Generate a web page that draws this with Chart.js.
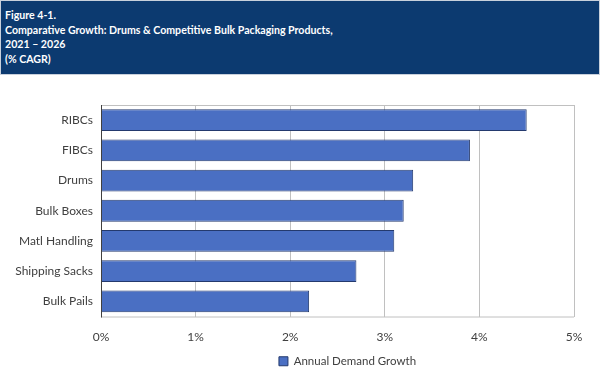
<!DOCTYPE html>
<html>
<head>
<meta charset="utf-8">
<script src="https://cdn.jsdelivr.net/npm/chart.js@4/dist/chart.umd.min.js"></script>
<style>
  html, body { margin: 0; padding: 0; background: #fff; }
  #wrap { position: relative; width: 600px; height: 372px; overflow: hidden; }
  #hdr { position: absolute; left: 0; top: 0; width: 594px; height: 66px; background: #0c3a70;
         border: 1px solid #c8d0dc; color: #fff; font-family: Lato, 'Noto Sans', sans-serif; font-weight: bold;
         font-size: 10.6px; line-height: 14.6px; padding: 7px 0 0 4px; box-sizing: content-box; }
  canvas { position: absolute; left: 0; top: 0; }
</style>
</head>
<body>
<div id="wrap">
  <canvas id="c" width="600" height="372"></canvas>
  <div id="hdr">Figure 4-1.<br>Comparative Growth: Drums &amp; Competitive Bulk Packaging Products,<br>2021 – 2026<br>(% CAGR)</div>
</div>
<script>
const categories = ["RIBCs", "FIBCs", "Drums", "Bulk Boxes", "Matl Handling", "Shipping Sacks", "Bulk Pails"];
const growthValues = [4.5, 3.9, 3.3, 3.2, 3.1, 2.7, 2.2];
const seriesName = "Annual Demand Growth";
const xTicks = [0, 1, 2, 3, 4, 5];

const frame = {
  id: 'frame',
  afterLayout(chart) {
    const lg = chart.legend;
    if (lg) { lg.left += 58; lg.right += 58; lg.top += 5; lg.bottom += 5; }
  },
  afterDraw(chart) {
    const a = chart.chartArea, ctx = chart.ctx;
    ctx.save();
    ctx.strokeStyle = '#c0c0c0';
    ctx.lineWidth = 1;
    ctx.beginPath();
    ctx.moveTo(a.left, a.top + 0.5); ctx.lineTo(a.right, a.top + 0.5);
    ctx.moveTo(a.left, a.bottom + 0.5); ctx.lineTo(a.right, a.bottom + 0.5);
    ctx.stroke();
    ctx.strokeStyle = '#404040';
    ctx.beginPath();
    ctx.moveTo(a.left + 0.5, a.top); ctx.lineTo(a.left + 0.5, a.bottom + 1);
    ctx.stroke();
    ctx.restore();
  }
};

new Chart(document.getElementById('c'), {
  type: 'bar',
  data: {
    labels: categories,
    datasets: [{
      label: seriesName,
      data: growthValues,
      backgroundColor: '#4a6fc3',
      borderColor: '#243a6e',
      borderWidth: 1,
      barPercentage: 0.72,
      categoryPercentage: 1.0
    }]
  },
  options: {
    indexAxis: 'y',
    responsive: false,
    animation: false,
    devicePixelRatio: 1,
    layout: { padding: { top: 105, left: 5, right: 26, bottom: 0 } },
    plugins: {
      legend: {
        position: 'bottom',
        labels: {
          boxWidth: 9, boxHeight: 9, padding: 6,
          color: '#404040',
          font: { family: "Lato, 'Noto Sans', sans-serif", size: 11.5 }
        }
      },
      tooltip: { enabled: false }
    },
    scales: {
      x: {
        min: 0, max: 5,
        afterBuildTicks: s => { s.ticks = xTicks.map(v => ({ value: v })); },
        afterFit: s => { s.height = 28; },
        ticks: {
          callback: v => v + '%',
          color: '#404040',
          padding: 13,
          font: { family: "Lato, 'Noto Sans', sans-serif", size: 12 }
        },
        grid: { color: '#c0c0c0', drawTicks: false },
        border: { display: false }
      },
      y: {
        afterFit: s => { s.width = 96; },
        ticks: {
          color: '#404040',
          padding: 8,
          font: { family: "Lato, 'Noto Sans', sans-serif", size: 12 }
        },
        grid: { display: false, drawTicks: false },
        border: { display: false }
      }
    }
  },
  plugins: [frame]
});
</script>
</body>
</html>
